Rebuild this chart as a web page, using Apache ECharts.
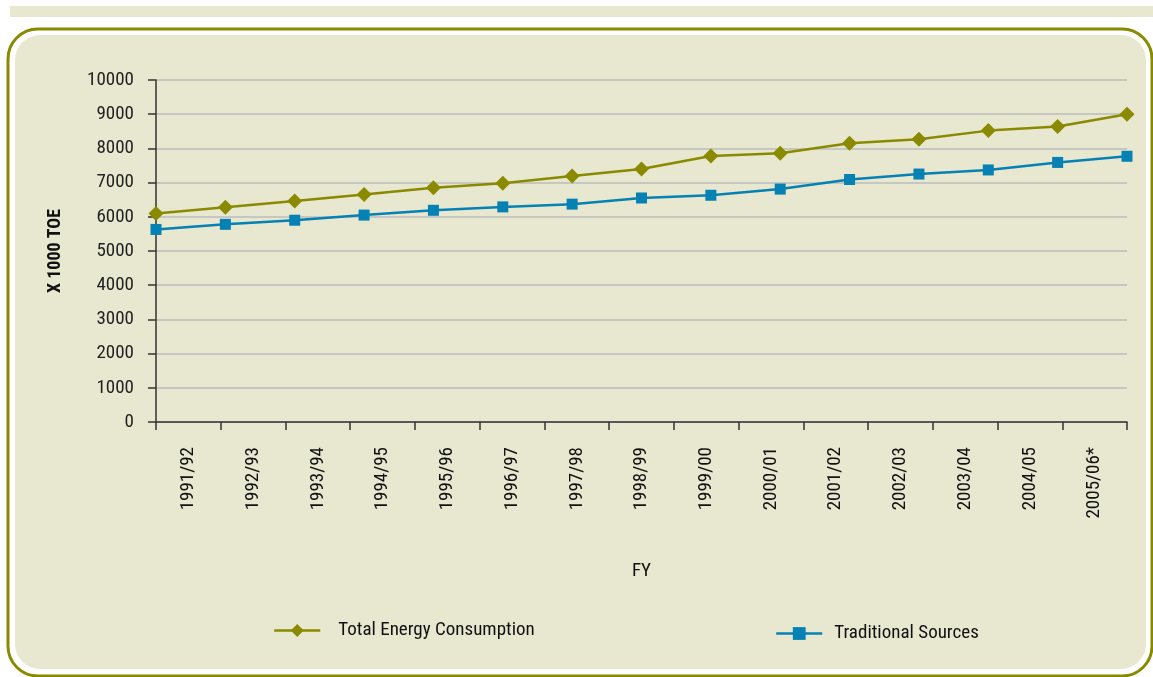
<!DOCTYPE html>
<html>
<head>
<meta charset="utf-8">
<script src="https://cdn.jsdelivr.net/npm/echarts@6/dist/echarts.min.js"></script>
<style>
  html, body { margin: 0; padding: 0; background: #fff; }
  #main { width: 1153px; height: 677px; }
</style>
</head>
<body>
<div id="main"></div>
<script>
// energy consumption chart

var years = ['1991/92', '1992/93', '1993/94', '1994/95', '1995/96', '1996/97', '1997/98',
  '1998/99', '1999/00', '2000/01', '2001/02', '2002/03', '2003/04', '2004/05', '2005/06*'];
var totalEnergy = [6100, 6280, 6460, 6650, 6850, 6980, 7190, 7400, 7780, 7860, 8150, 8270, 8520, 8640, 9000];
var traditional = [5630, 5780, 5900, 6050, 6190, 6290, 6370, 6550, 6630, 6810, 7090, 7250, 7370, 7590, 7770];

var FONT = '"Roboto Condensed", "Liberation Sans", sans-serif';
var OLIVE = '#8a8a00';
var BLUE = '#0581b3';
var BEIGE = '#e8e7d0';

var chart = echarts.init(document.getElementById('main'));

var option = {
  animation: false,
  backgroundColor: '#fff',
  textStyle: { fontFamily: FONT, color: '#222' },
  graphic: [
    // top strip
    { type: 'rect', z: -10, shape: { x: 10, y: 6, width: 1143, height: 11 }, style: { fill: BEIGE } },
    // outer olive frame
    { type: 'rect', z: -10, shape: { x: 8, y: 29, width: 1144, height: 647, r: 30 },
      style: { fill: '#fff', stroke: OLIVE, lineWidth: 3 } },
    // inner panel
    { type: 'rect', z: -9, shape: { x: 15, y: 35, width: 1131, height: 634, r: 25 },
      style: { fill: BEIGE } }
  ],
  grid: { left: 156, right: 26, top: 80, bottom: 255 },
  legend: [
    {
      data: ['Total Energy Consumption'],
      left: 268, top: 616,
      itemWidth: 46, itemHeight: 16,
      lineStyle: { width: 2.5 },
      textStyle: { fontFamily: FONT, fontSize: 19, color: '#111', padding: [0, 0, 0, 13] }
    },
    {
      data: ['Traditional Sources'],
      left: 770, top: 619,
      itemWidth: 46, itemHeight: 16,
      lineStyle: { width: 2.5 },
      textStyle: { fontFamily: FONT, fontSize: 19, color: '#111', padding: [0, 0, 0, 7] }
    }
  ],
  xAxis: [
    {
      // data positions (points sit on the edges)
      type: 'category',
      data: years,
      boundaryGap: false,
      show: false
    },
    {
      // labelled axis with ticks between categories
      type: 'category',
      data: years,
      boundaryGap: true,
      position: 'bottom',
      name: 'FY',
      nameLocation: 'middle',
      nameGap: 140,
      nameTextStyle: { fontFamily: FONT, fontSize: 19, color: '#111' },
      axisLine: { lineStyle: { color: '#333', width: 1.5 } },
      axisTick: { show: true, length: 8, inside: false, lineStyle: { color: '#333', width: 1.5 } },
      axisLabel: { rotate: 90, margin: 25, fontFamily: FONT, fontSize: 19, color: '#111' },
      splitLine: { show: false }
    }
  ],
  yAxis: {
    type: 'value',
    min: 0,
    max: 10000,
    interval: 1000,
    name: 'X 1000 TOE',
    nameLocation: 'middle',
    nameGap: 92,
    nameRotate: 90,
    nameTextStyle: { fontFamily: FONT, fontSize: 18, fontWeight: 'bold', color: '#111' },
    axisLine: { show: true, lineStyle: { color: '#333', width: 1.5 } },
    axisTick: { show: true, length: 8, lineStyle: { color: '#333', width: 1.5 } },
    axisLabel: { margin: 22, fontFamily: FONT, fontSize: 19, color: '#222', formatter: function (v) { return String(v); } },
    splitLine: { show: true, lineStyle: { color: '#bdbdbd', width: 1.5 } }
  },
  series: [
    {
      name: 'Total Energy Consumption',
      type: 'line',
      xAxisIndex: 0,
      data: totalEnergy,
      symbol: 'diamond',
      symbolSize: 15,
      lineStyle: { color: OLIVE, width: 2.5 },
      itemStyle: { color: OLIVE }
    },
    {
      name: 'Traditional Sources',
      type: 'line',
      xAxisIndex: 0,
      data: traditional,
      symbol: 'rect',
      symbolSize: 11,
      lineStyle: { color: BLUE, width: 2.5 },
      itemStyle: { color: BLUE }
    }
  ]
};

chart.setOption(option);
</script>
</body>
</html>
